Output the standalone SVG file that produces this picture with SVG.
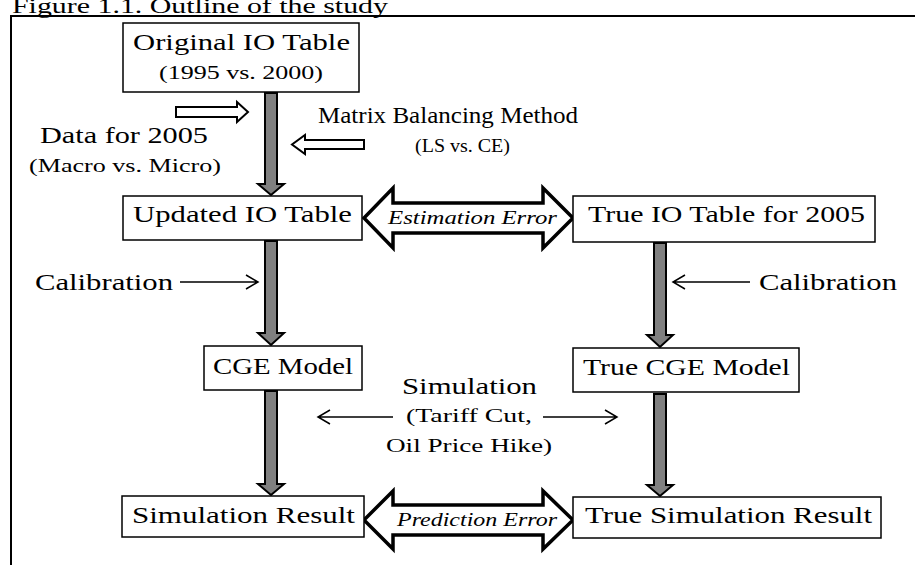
<svg xmlns="http://www.w3.org/2000/svg" width="915" height="565" viewBox="0 0 915 565">
  <style>
    text { font-family: "Liberation Serif", "DejaVu Serif", serif; fill: #000; }
    .big { font-size: 24px; }
    .small { font-size: 18px; }
    .it { font-size: 19px; font-style: italic; }
    .box { fill: #fff; stroke: #000; stroke-width: 1.5; }
    .flow { fill: #808080; stroke: #000; stroke-width: 2; stroke-linejoin: miter; }
    .hollow { fill: #fff; stroke: #000; stroke-width: 2; stroke-linejoin: miter; }
    .err { fill: #fff; stroke: #000; stroke-width: 3.5; stroke-linejoin: miter; }
    .thin { fill: none; stroke: #000; stroke-width: 1.5; }
  </style>
  <rect width="915" height="565" fill="#fff"/>

  <!-- title and frame -->
  <text x="12" y="13" font-size="22" textLength="376" lengthAdjust="spacingAndGlyphs">Figure 1.1. Outline of the study</text>
  <rect x="11" y="16" width="940" height="620" fill="none" stroke="#000" stroke-width="2"/>

  <!-- connectors -->
  <g id="connectors">
    <!-- vertical flow arrows -->
    <path class="flow" d="M265,93 H277 V184 H284 L271,195 L258,184 H265 Z"/>
    <path class="flow" d="M265,241 H277 V333 H284 L271,345 L258,333 H265 Z"/>
    <path class="flow" d="M265,391 H277 V484 H284 L271,495 L258,484 H265 Z"/>
    <path class="flow" d="M654,243 H666 V335 H673 L660,347 L647,335 H654 Z"/>
    <path class="flow" d="M654,394 H666 V485 H673 L660,496 L647,485 H654 Z"/>

    <!-- hollow input arrows -->
    <path class="hollow" d="M176,107 H237 V102 L248,112 L237,122 V117 H176 Z"/>
    <path class="hollow" d="M364,140 H305 V135 L292,144.5 L305,154 V149 H364 Z"/>

    <!-- thin arrows -->
    <path class="thin" d="M180,282 H257 M246,275 L258,282 L246,289"/>
    <path class="thin" d="M750,282 H674 M685,275 L673,282 L685,289"/>
    <path class="thin" d="M393,417 H319 M330,410 L318,417 L330,424"/>
    <path class="thin" d="M543,417 H616 M605,410 L617,417 L605,424"/>

    <!-- error double arrows -->
    <path class="err" d="M364,218 L393,188 V203 H543 V188 L573,218 L543,248 V233 H393 V248 Z"/>
    <path class="err" d="M364,520 L393,491 V505 H543 V491 L573,520 L543,549 V535 H393 V549 Z"/>
    <text class="it" x="388" y="224" textLength="169" lengthAdjust="spacingAndGlyphs">Estimation Error</text>
    <text class="it" x="397" y="526" textLength="160" lengthAdjust="spacingAndGlyphs">Prediction Error</text>
  </g>

  <!-- nodes -->
  <g id="original-io">
    <rect class="box" x="123" y="23" width="236" height="69"/>
    <text class="big" x="133" y="50" textLength="217" lengthAdjust="spacingAndGlyphs">Original IO Table</text>
    <text class="small" x="159" y="79" textLength="164" lengthAdjust="spacingAndGlyphs">(1995 vs. 2000)</text>
  </g>

  <g id="data-2005">
    <text class="big" x="40" y="143" textLength="168" lengthAdjust="spacingAndGlyphs">Data for 2005</text>
    <text class="small" x="29" y="172" textLength="192" lengthAdjust="spacingAndGlyphs">(Macro vs. Micro)</text>
  </g>

  <g id="matrix-balancing">
    <text class="big" x="318" y="123" textLength="260" lengthAdjust="spacingAndGlyphs">Matrix Balancing Method</text>
    <text class="small" x="415" y="152" textLength="95" lengthAdjust="spacingAndGlyphs">(LS vs. CE)</text>
  </g>

  <g id="updated-io">
    <rect class="box" x="123" y="196" width="239" height="44"/>
    <text class="big" x="133" y="222" textLength="219" lengthAdjust="spacingAndGlyphs">Updated IO Table</text>
  </g>

  <g id="true-io">
    <rect class="box" x="573" y="196" width="302" height="46"/>
    <text class="big" x="588" y="222" textLength="277" lengthAdjust="spacingAndGlyphs">True IO Table for 2005</text>
  </g>

  <g id="calibration-left">
    <text class="big" x="35" y="290" textLength="138" lengthAdjust="spacingAndGlyphs">Calibration</text>
  </g>

  <g id="calibration-right">
    <text class="big" x="759" y="290" textLength="138" lengthAdjust="spacingAndGlyphs">Calibration</text>
  </g>

  <g id="cge-model">
    <rect class="box" x="204" y="346" width="158" height="44"/>
    <text class="big" x="213" y="374" textLength="140" lengthAdjust="spacingAndGlyphs">CGE Model</text>
  </g>

  <g id="true-cge-model">
    <rect class="box" x="573" y="348" width="226" height="44"/>
    <text class="big" x="583" y="375" textLength="207" lengthAdjust="spacingAndGlyphs">True CGE Model</text>
  </g>

  <g id="simulation">
    <text class="big" x="402" y="394" textLength="135" lengthAdjust="spacingAndGlyphs">Simulation</text>
    <text class="small" x="406" y="422" textLength="126" lengthAdjust="spacingAndGlyphs">(Tariff Cut,</text>
    <text class="small" x="386" y="452" textLength="166" lengthAdjust="spacingAndGlyphs">Oil Price Hike)</text>
  </g>

  <g id="simulation-result">
    <rect class="box" x="122" y="496" width="242" height="41"/>
    <text class="big" x="132" y="523" textLength="223" lengthAdjust="spacingAndGlyphs">Simulation Result</text>
  </g>

  <g id="true-simulation-result">
    <rect class="box" x="573" y="497" width="308" height="41"/>
    <text class="big" x="585" y="523" textLength="287" lengthAdjust="spacingAndGlyphs">True Simulation Result</text>
  </g>
</svg>
